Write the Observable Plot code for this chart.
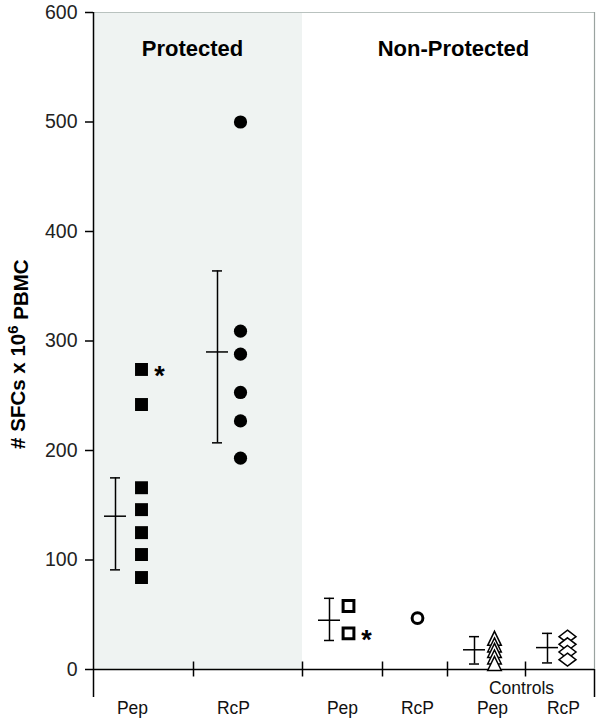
<!DOCTYPE html>
<html><head><meta charset="utf-8">
<script src="https://cdn.jsdelivr.net/npm/d3@7"></script>
<script src="https://cdn.jsdelivr.net/npm/@observablehq/plot@0.6"></script>
<style>
html,body{margin:0;padding:0;background:#fff;}
#chart svg{font-family:"Liberation Sans",Arial,Helvetica,sans-serif;}
</style>
</head><body><div id="chart"></div>
<script>
// ---------- DATA ----------
const categories = ["Pep", "RcP", "Pep", "RcP", "Pep", "RcP"];
const groups = ["Protected", "Protected", "Non-Protected", "Non-Protected", "Controls", "Controls"];
const groupTitles = ["Protected", "Non-Protected"];
const subTitle = "Controls";
const yTitle = "# SFCs x 10^6 PBMC";
const yTicks = [0, 100, 200, 300, 400, 500, 600];

const protectedPep = [274, 242, 166, 146, 125, 105, 84];
const protectedRcP = [500, 309, 288, 253, 227, 193];
const nonProtectedPep = [58, 33];
const nonProtectedRcP = [47];
const controlsPep = [28, 22, 17, 11, 5];
const controlsRcP = [30, 23, 16, 9];
const seriesValues = [protectedPep, protectedRcP, nonProtectedPep, nonProtectedRcP, controlsPep, controlsRcP];

const means = [140, 290, 45, null, 18, 20];
const errLow = [91, 207, 26.5, null, 5, 6];
const errHigh = [175, 364, 65, null, 30, 33];

// starred points: [category index, value]
const starred = [[0, 274], [2, 33]];

// ---------- LAYOUT (not data) ----------
const W = 600, H = 719;
const mL = 93, mR = 6, mT = 12, mB = 50;
const xSpan = W - mL - mR;               // 1 x unit = 1 px
const slotEdges = [0, 100, 209, 289, 354, 432, xSpan];
const barX = [22, 124, 236, null, 381, 454];
const ptsX = [48, 147, 255, 324, 401, 474];
const labelX = [39, 140, 249, 324, 399, 470];
const titleX = [99, 360];
const subTitleX = 428;
const pxPerUnit = (H - mT - mB) / 600;
const py = px => px / pxPerUnit;          // pixel length -> y units

// symbol styles per category
const wideDiamond = {draw(ctx){ctx.moveTo(0,-6.5);ctx.lineTo(8.5,0);ctx.lineTo(0,6.5);ctx.lineTo(-8.5,0);ctx.closePath();}};
const tallTriangle = {draw(ctx){ctx.moveTo(0,-7.5);ctx.lineTo(6.8,6.5);ctx.lineTo(-6.8,6.5);ctx.closePath();}};
const sym = [
  {symbol: "square", r: 7.3, fill: "#000", stroke: "none", sw: 0},
  {symbol: "circle", r: 6.6, fill: "#000", stroke: "none", sw: 0},
  {symbol: "square", r: 6.1, fill: "none", stroke: "#000", sw: 3},
  {symbol: "circle", r: 5.4, fill: "none", stroke: "#000", sw: 3},
  {symbol: tallTriangle, r: 5, fill: "#fff", stroke: "#000", sw: 1.5},
  {symbol: wideDiamond, r: 5, fill: "#fff", stroke: "#000", sw: 1.5}
];

// ---------- TABLES ----------
const cats = categories.map((c, i) => ({i, c, g: groups[i], m: means[i], lo: errLow[i], hi: errHigh[i]}));
const errCats = cats.filter(d => d.m != null);

const dotMarks = seriesValues.map((vals, i) => Plot.dot(vals.map(v => ({i, v})), {
  x: () => ptsX[i], y: "v",
  symbol: sym[i].symbol, r: sym[i].r, fill: sym[i].fill, stroke: sym[i].stroke, strokeWidth: sym[i].sw
}));

const belowAxis = -py(28);
const tickHalf = py(7.5);

const chart = Plot.plot({
  width: W, height: H,
  marginLeft: mL, marginRight: mR, marginTop: mT, marginBottom: mB,
  x: {type: "linear", domain: [0, xSpan], axis: null},
  y: {type: "linear", domain: [0, 600], axis: null},
  style: {fontFamily: '"Liberation Sans", Arial, Helvetica, sans-serif', background: "#fff", overflow: "visible"},
  marks: [
    // protected shading
    Plot.rect([0], {x1: slotEdges[0], x2: slotEdges[2], y1: 0, y2: 600, fill: "#eff3f2"}),
    // frame top / right
    Plot.ruleY([600], {x1: 0, x2: xSpan, stroke: "#b9c2bf", strokeWidth: 1.2}),
    Plot.ruleX([xSpan], {y1: 0, y2: 600, stroke: "#9aa3a0", strokeWidth: 1.2}),
    Plot.ruleX([xSpan], {y1: belowAxis, y2: 0, stroke: "#000", strokeWidth: 1.5}),
    // y axis ticks and labels
    Plot.ruleY(yTicks, {y: d => d, x1: -8, x2: 0, stroke: "#000", strokeWidth: 1.5}),
    Plot.text(yTicks, {y: d => d, x: -16, text: d => String(d), textAnchor: "end", fontSize: 19.5, fill: "#222"}),
    Plot.ruleX([0], {y1: belowAxis, y2: 600, stroke: "#000", strokeWidth: 1.5}),
    // x axis line
    Plot.ruleY([0], {x1: 0, x2: xSpan, stroke: "#000", strokeWidth: 1.5}),
    // category separators
    Plot.ruleX(slotEdges.slice(1, -1), {y1: -tickHalf, y2: tickHalf, stroke: "#000", strokeWidth: 1.5}),
    // category labels
    Plot.text(cats, {x: d => labelX[d.i], y: -py(39), text: "c", fontSize: 17.5, fill: "#111"}),
    Plot.text([subTitle], {x: subTitleX, y: -py(19), text: d => d, fontSize: 17.5, fill: "#111"}),
    // group titles
    Plot.text(groupTitles, {x: (d, j) => titleX[j], y: 600 - py(36), text: d => d, fontSize: 22, fontWeight: "bold", fill: "#000"}),
    // y title
    Plot.text([yTitle], {x: -75, y: 288, text: d => d, rotate: -90, fontSize: 20.5, fontWeight: "bold", fill: "#000"}),
    // error bars
    Plot.ruleX(errCats, {x: d => barX[d.i], y1: "lo", y2: "hi", stroke: "#000", strokeWidth: 1.5}),
    Plot.ruleY(errCats, {y: "hi", x1: d => barX[d.i] - 5, x2: d => barX[d.i] + 5, stroke: "#000", strokeWidth: 1.5}),
    Plot.ruleY(errCats, {y: "lo", x1: d => barX[d.i] - 5, x2: d => barX[d.i] + 5, stroke: "#000", strokeWidth: 1.5}),
    Plot.ruleY(errCats, {y: "m", x1: d => barX[d.i] - 11, x2: d => barX[d.i] + 11, stroke: "#000", strokeWidth: 1.5}),
    // points
    ...dotMarks,
    // asterisks
    Plot.text(starred, {x: d => ptsX[d[0]] + 18, y: d => d[1], text: () => "*", dy: 7, fontSize: 27, fontWeight: "bold", fill: "#000"})
  ]
});

// superscript in y title
d3.select(chart).selectAll("text").each(function() {
  if (this.textContent === yTitle) {
    const t = d3.select(this);
    t.text("");
    t.append("tspan").text("# SFCs x 10");
    t.append("tspan").attr("dy", "-0.45em").attr("font-size", "15px").text("6");
    t.append("tspan").attr("dy", "0.45em").text(" PBMC");
  }
});

document.getElementById("chart").appendChild(chart);
</script>
</body></html>
